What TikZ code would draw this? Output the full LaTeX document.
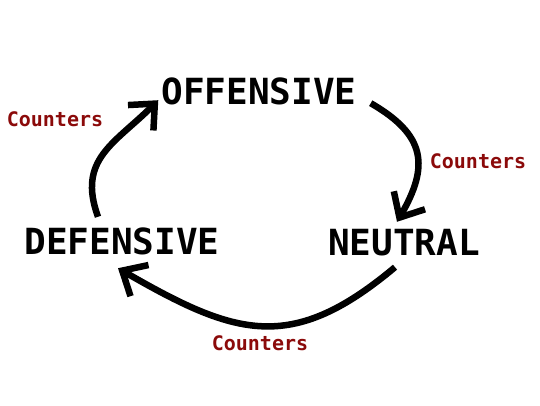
\documentclass[tikz,border=0pt]{standalone}
\usepackage{fontspec}
\usepackage{tikz}
\usetikzlibrary{arrows.meta}
\usepackage{xcolor}
\newfontfamily\pixelfont{DejaVu Sans Mono}
\definecolor{ink}{HTML}{000000}
\definecolor{counterRed}{HTML}{8B0A0A}
\tikzset{
  state/.style={font=\pixelfont\bfseries\fontsize{36}{36}\selectfont, text=ink, inner sep=0pt, text height=24pt, text depth=0pt},
  counter/.style={font=\pixelfont\bfseries\fontsize{20}{20}\selectfont, text=counterRed, inner sep=0pt},
  cyclearrow/.style={line width=6.5pt, draw=ink, -{Straight Barb[length=20pt,width=36pt]}},
}

\begin{document}
\begin{tikzpicture}[x=1pt,y=1pt]
  \useasboundingbox (0,0) rectangle (540,405);

  \node[state] (off) at (259,313) {OFFENSIVE};
  \node[state] (def) at (122,163) {DEFENSIVE};
  \node[state] (neu) at (404,162) {NEUTRAL};

  \node[counter] (cntDefOff) at (55,286) {Counters};
  \node[counter] (cntOffNeu) at (478,244) {Counters};
  \node[counter] (cntNeuDef) at (260,62) {Counters};

  \draw[cyclearrow] ([xshift=-24pt,yshift=13pt]def.north) to[out=110,in=225,looseness=1.2] ([xshift=-3pt,yshift=4pt]off.south west);
  \draw[cyclearrow] ([xshift=14pt,yshift=1pt]off.south east) to[out=-30,in=60,looseness=1.35] ([xshift=-7pt,yshift=9pt]neu.north);
  \draw[cyclearrow] ([xshift=-9pt,yshift=-12pt]neu.south) to[out=220,in=330,looseness=1.25] ([xshift=-4pt,yshift=-14pt]def.south);
\end{tikzpicture}
\end{document}
